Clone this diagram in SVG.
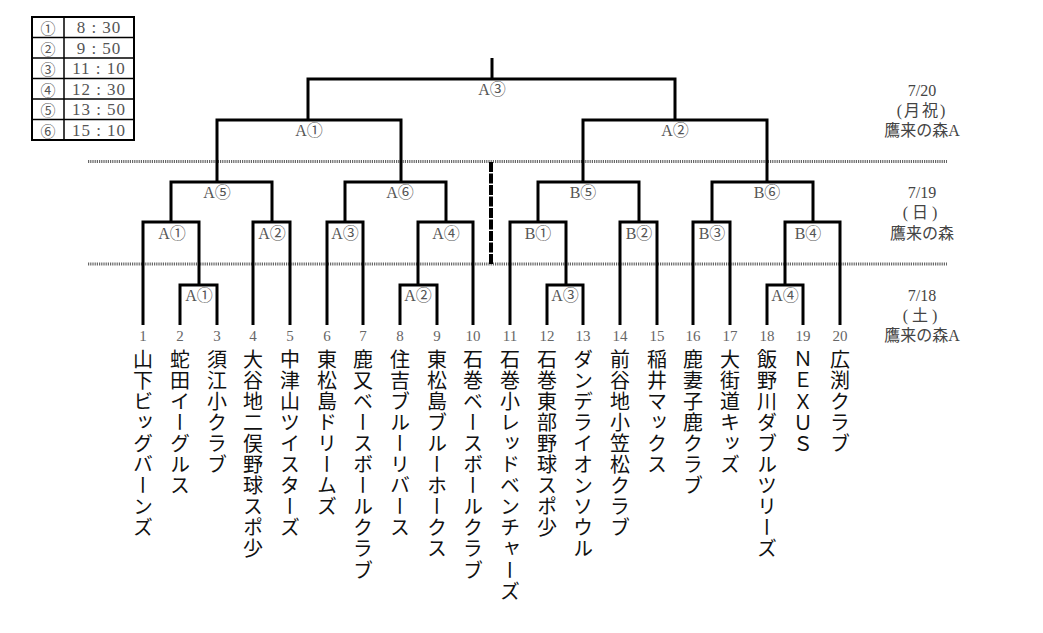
<svg xmlns="http://www.w3.org/2000/svg" width="1043" height="633" viewBox="0 0 1043 633">
<style>
.ln{fill:none;stroke:#000;stroke-width:3;stroke-linejoin:miter;stroke-linecap:butt}
.dot{stroke:#666;stroke-width:3;stroke-dasharray:1.2 1}
.vd{stroke:#000;stroke-width:4;stroke-dasharray:10 1.5}
.lb{font-family:"Liberation Serif","Noto Sans CJK JP",serif;font-size:16px;fill:#555;text-anchor:middle;dominant-baseline:central}
.tc{font-family:"Noto Sans CJK JP",sans-serif;font-size:15px;fill:#555;text-anchor:middle;dominant-baseline:central}
.tt{font-family:"Liberation Serif",serif;font-size:17px;fill:#555;text-anchor:middle;dominant-baseline:central;letter-spacing:1px}
.num{font-family:"Liberation Serif","Noto Sans CJK JP",serif;font-size:15px;fill:#666;text-anchor:middle;dominant-baseline:central}
.side{font-family:"Liberation Serif","Noto Sans CJK JP",serif;font-size:16px;fill:#444;text-anchor:middle;dominant-baseline:central}
.tm{font-family:"Noto Sans CJK JP",sans-serif;font-size:20px;fill:#111;writing-mode:vertical-rl;letter-spacing:1.1px}
.tb{fill:#fff;stroke:#000;stroke-width:2}
.tl{stroke:#000;stroke-width:1.5}
</style>
<g id="time-table">
<rect class="tb" x="32" y="17" width="102" height="123"/>
<line class="tl" x1="64" y1="17" x2="64" y2="140"/>
<line class="tl" x1="32" y1="37.5" x2="134" y2="37.5"/>
<line class="tl" x1="32" y1="58" x2="134" y2="58"/>
<line class="tl" x1="32" y1="78.5" x2="134" y2="78.5"/>
<line class="tl" x1="32" y1="99" x2="134" y2="99"/>
<line class="tl" x1="32" y1="119.5" x2="134" y2="119.5"/>
<text class="tc" x="48" y="27.5">①</text><text class="tt" x="99" y="27.5">8 : 30</text>
<text class="tc" x="48" y="48">②</text><text class="tt" x="99" y="48">9 : 50</text>
<text class="tc" x="48" y="68.5">③</text><text class="tt" x="99" y="68.5">11 : 10</text>
<text class="tc" x="48" y="89">④</text><text class="tt" x="99" y="89">12 : 30</text>
<text class="tc" x="48" y="109.5">⑤</text><text class="tt" x="99" y="109.5">13 : 50</text>
<text class="tc" x="48" y="130">⑥</text><text class="tt" x="99" y="130">15 : 10</text>
</g>
<g id="day-dividers">
<line class="dot" x1="88" y1="161.5" x2="947" y2="161.5"/>
<line class="dot" x1="88" y1="264" x2="947" y2="264"/>
<line class="vd" x1="491" y1="162" x2="491" y2="264"/>
</g>
<g id="connectors">
<path class="ln" d="M492 58V79"/>
<path class="ln" d="M308 120V79H675V120"/>
<path class="ln" d="M217 182V120H401V182"/>
<path class="ln" d="M583 182V120H767V182"/>
<path class="ln" d="M171 222V182H272V222"/>
<path class="ln" d="M345 222V182H446V222"/>
<path class="ln" d="M538 222V182H639V222"/>
<path class="ln" d="M712 222V182H813V222"/>
<path class="ln" d="M143 325V222H199V285"/>
<path class="ln" d="M180 325V285H217V325"/>
<path class="ln" d="M253 325V222H290V325"/>
<path class="ln" d="M327 325V222H363V325"/>
<path class="ln" d="M418 285V222H473V325"/>
<path class="ln" d="M400 325V285H437V325"/>
<path class="ln" d="M510 325V222H566V285"/>
<path class="ln" d="M547 325V285H583V325"/>
<path class="ln" d="M620 325V222H657V325"/>
<path class="ln" d="M693 325V222H730V325"/>
<path class="ln" d="M785 285V222H840V325"/>
<path class="ln" d="M767 325V285H803V325"/>
</g>
<g id="match-labels">
<text class="lb" x="492" y="89">A③</text>
<text class="lb" x="309" y="130">A①</text>
<text class="lb" x="675" y="130">A②</text>
<text class="lb" x="217" y="192">A⑤</text>
<text class="lb" x="400" y="192">A⑥</text>
<text class="lb" x="583" y="192">B⑤</text>
<text class="lb" x="767" y="192">B⑥</text>
<text class="lb" x="172" y="233">A①</text>
<text class="lb" x="272" y="233">A②</text>
<text class="lb" x="345" y="233">A③</text>
<text class="lb" x="446" y="233">A④</text>
<text class="lb" x="538" y="233">B①</text>
<text class="lb" x="639" y="233">B②</text>
<text class="lb" x="712" y="233">B③</text>
<text class="lb" x="808" y="233">B④</text>
<text class="lb" x="199" y="295">A①</text>
<text class="lb" x="418" y="295">A②</text>
<text class="lb" x="565" y="295">A③</text>
<text class="lb" x="785" y="295">A④</text>
</g>
<g id="dates">
<text class="side" x="922" y="90">7/20</text>
<text class="side" x="922" y="110" letter-spacing="2">(月祝)</text>
<text class="side" x="922" y="130">鷹来の森A</text>
<text class="side" x="922" y="192">7/19</text>
<text class="side" x="922" y="212" letter-spacing="4">(日)</text>
<text class="side" x="922" y="233">鷹来の森</text>
<text class="side" x="922" y="295">7/18</text>
<text class="side" x="922" y="315" letter-spacing="4">(土)</text>
<text class="side" x="922" y="335">鷹来の森A</text>
</g>
<g id="team-1"><text class="num" x="143" y="336">1</text><text class="tm" x="143" y="349">山下ビッグバーンズ</text></g>
<g id="team-2"><text class="num" x="180" y="336">2</text><text class="tm" x="180" y="349">蛇田イーグルス</text></g>
<g id="team-3"><text class="num" x="217" y="336">3</text><text class="tm" x="217" y="349">須江小クラブ</text></g>
<g id="team-4"><text class="num" x="253" y="336">4</text><text class="tm" x="253" y="349">大谷地二俣野球スポ少</text></g>
<g id="team-5"><text class="num" x="290" y="336">5</text><text class="tm" x="290" y="349">中津山ツイスターズ</text></g>
<g id="team-6"><text class="num" x="327" y="336">6</text><text class="tm" x="327" y="349">東松島ドリームズ</text></g>
<g id="team-7"><text class="num" x="363" y="336">7</text><text class="tm" x="363" y="349">鹿又ベースボールクラブ</text></g>
<g id="team-8"><text class="num" x="400" y="336">8</text><text class="tm" x="400" y="349">住吉ブルーリバース</text></g>
<g id="team-9"><text class="num" x="437" y="336">9</text><text class="tm" x="437" y="349">東松島ブルーホークス</text></g>
<g id="team-10"><text class="num" x="473" y="336">10</text><text class="tm" x="473" y="349">石巻ベースボールクラブ</text></g>
<g id="team-11"><text class="num" x="510" y="336">11</text><text class="tm" x="510" y="349">石巻小レッドベンチャーズ</text></g>
<g id="team-12"><text class="num" x="547" y="336">12</text><text class="tm" x="547" y="349">石巻東部野球スポ少</text></g>
<g id="team-13"><text class="num" x="583" y="336">13</text><text class="tm" x="583" y="349">ダンデライオンソウル</text></g>
<g id="team-14"><text class="num" x="620" y="336">14</text><text class="tm" x="620" y="349">前谷地小笠松クラブ</text></g>
<g id="team-15"><text class="num" x="657" y="336">15</text><text class="tm" x="657" y="349">稲井マックス</text></g>
<g id="team-16"><text class="num" x="693" y="336">16</text><text class="tm" x="693" y="349">鹿妻子鹿クラブ</text></g>
<g id="team-17"><text class="num" x="730" y="336">17</text><text class="tm" x="730" y="349">大街道キッズ</text></g>
<g id="team-18"><text class="num" x="767" y="336">18</text><text class="tm" x="767" y="349">飯野川ダブルツリーズ</text></g>
<g id="team-19"><text class="num" x="803" y="336">19</text><text class="tm" x="803" y="349">ＮＥＸＵＳ</text></g>
<g id="team-20"><text class="num" x="840" y="336">20</text><text class="tm" x="840" y="349">広渕クラブ</text></g>
</svg>
